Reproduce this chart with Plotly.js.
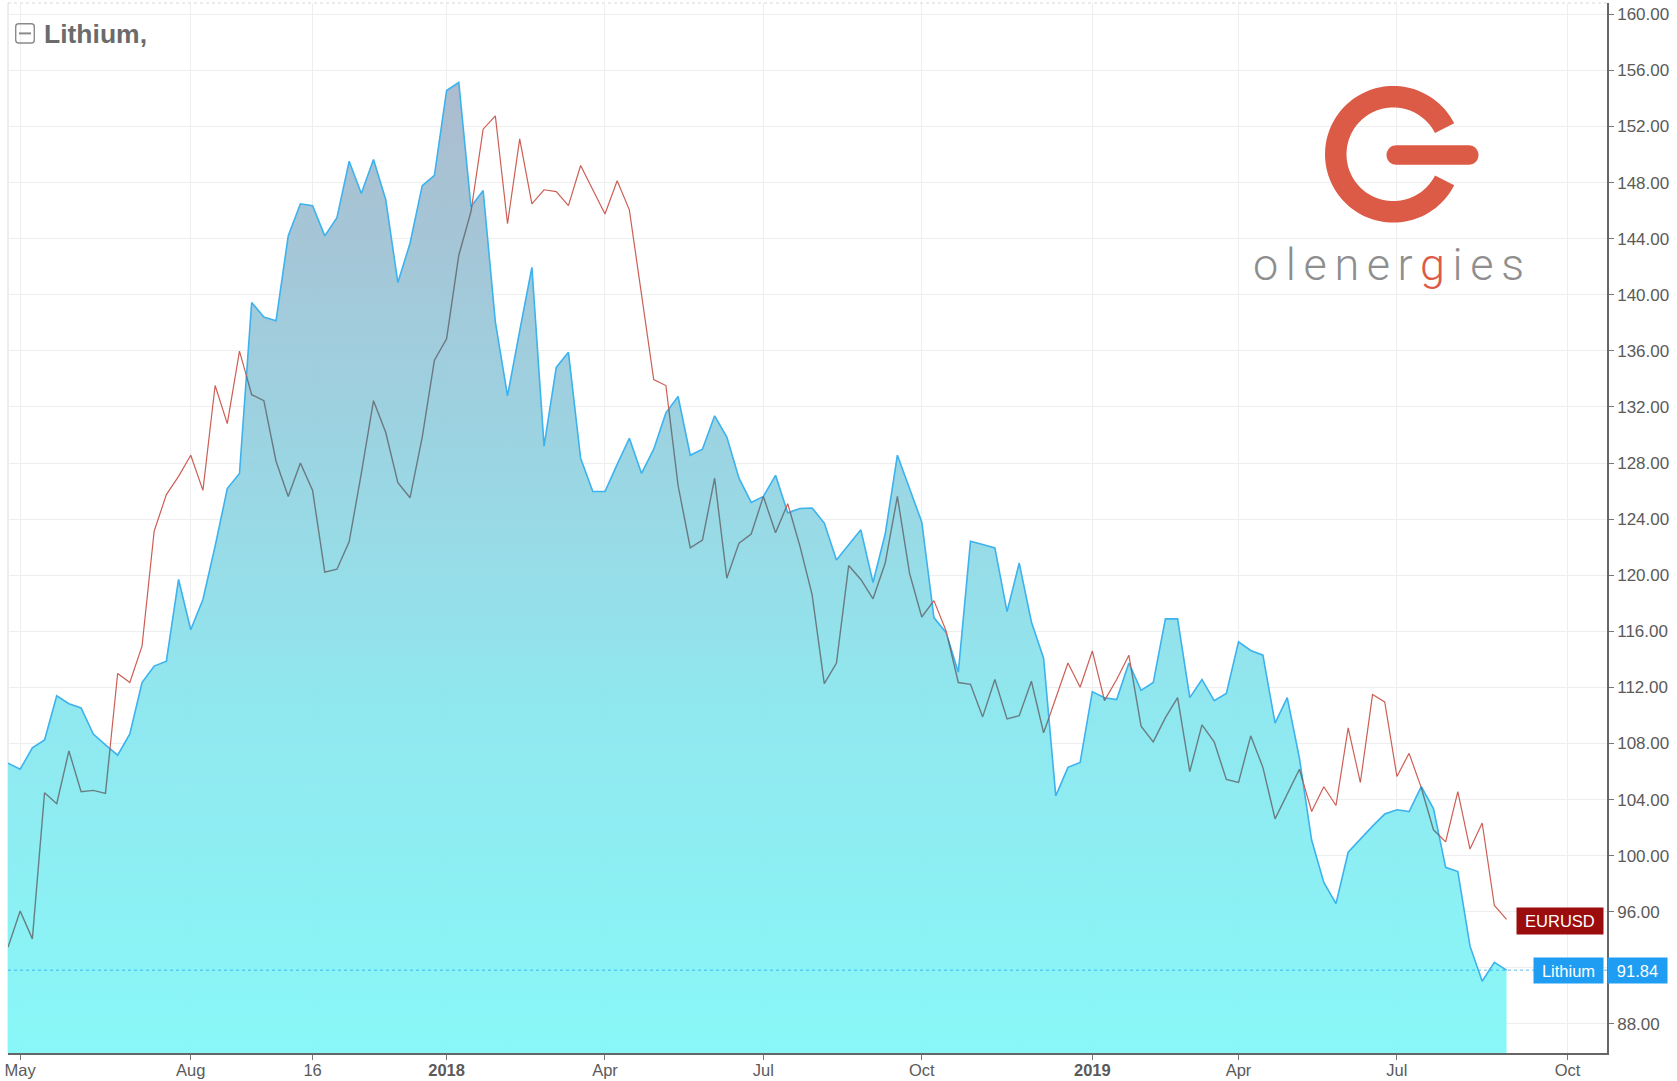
<!DOCTYPE html>
<html>
<head>
<meta charset="utf-8">
<script src="https://cdn.plot.ly/plotly-3.0.1.min.js"></script>
<style>
  html, body { margin: 0; padding: 0; background: #ffffff; }
  #chart { width: 1677px; height: 1081px; }
</style>
</head>
<body>
<div id="chart"></div>
<script>
// ---------- DATA (weekly) ----------
const weekDates = [
  '2017-04-24','2017-05-01','2017-05-08','2017-05-15','2017-05-22','2017-05-29','2017-06-05','2017-06-12',
  '2017-06-19','2017-06-26','2017-07-03','2017-07-10','2017-07-17','2017-07-24','2017-07-31','2017-08-07',
  '2017-08-14','2017-08-21','2017-08-28','2017-09-04','2017-09-11','2017-09-18','2017-09-25','2017-10-02',
  '2017-10-09','2017-10-16','2017-10-23','2017-10-30','2017-11-06','2017-11-13','2017-11-20','2017-11-27',
  '2017-12-04','2017-12-11','2017-12-18','2017-12-25',
  '2018-01-01','2018-01-08','2018-01-15','2018-01-22','2018-01-29','2018-02-05','2018-02-12','2018-02-19',
  '2018-02-26','2018-03-05','2018-03-12','2018-03-19','2018-03-26','2018-04-02','2018-04-09','2018-04-16',
  '2018-04-23','2018-04-30','2018-05-07','2018-05-14','2018-05-21','2018-05-28','2018-06-04','2018-06-11',
  '2018-06-18','2018-06-25','2018-07-02','2018-07-09','2018-07-16','2018-07-23','2018-07-30','2018-08-06',
  '2018-08-13','2018-08-20','2018-08-27','2018-09-03','2018-09-10','2018-09-17','2018-09-24','2018-10-01',
  '2018-10-08','2018-10-15','2018-10-22','2018-10-29','2018-11-05','2018-11-12','2018-11-19','2018-11-26',
  '2018-12-03','2018-12-10','2018-12-17','2018-12-24','2018-12-31',
  '2019-01-07','2019-01-14','2019-01-21','2019-01-28','2019-02-04','2019-02-11','2019-02-18','2019-02-25',
  '2019-03-04','2019-03-11','2019-03-18','2019-03-25','2019-04-01','2019-04-08','2019-04-15','2019-04-22',
  '2019-04-29','2019-05-06','2019-05-13','2019-05-20','2019-05-27','2019-06-03','2019-06-10','2019-06-17',
  '2019-06-24','2019-07-01','2019-07-08','2019-07-15','2019-07-22','2019-07-29','2019-08-05','2019-08-12',
  '2019-08-19','2019-08-26','2019-09-02'
];

const lithium = [
  106.60,106.17,107.69,108.25,111.40,110.84,110.54,108.68,107.90,107.17,
  108.68,112.35,113.52,113.87,119.70,116.11,118.27,122.08,126.18,127.26,
  139.45,138.41,138.15,144.20,146.49,146.36,144.20,145.50,149.52,147.23,
  149.65,146.80,140.87,143.68,147.79,148.52,154.57,155.14,146.28,147.44,
  138.07,132.79,137.42,141.96,129.21,134.82,135.90,128.34,125.97,125.97,
  127.91,129.77,127.26,128.99,131.58,132.75,128.56,128.99,131.37,129.85,
  126.92,125.19,125.62,127.13,124.45,124.76,124.80,123.72,121.08,122.20,
  123.24,119.48,122.94,128.56,126.18,123.80,116.98,115.90,113.09,122.42,
  122.20,121.95,117.41,120.87,116.67,114.08,104.27,106.30,106.65,111.70,
  111.27,111.14,113.74,111.79,112.35,116.89,116.89,111.27,112.57,111.06,
  111.57,115.25,114.64,114.30,109.46,111.27,106.95,101.12,98.09,96.58,
  100.25,101.20,102.11,102.97,103.28,103.15,104.92,103.36,99.17,98.87,
  93.55,91.05,92.39,91.84
];

const eurusd = [
  93.47,96.06,94.07,104.49,103.71,107.47,104.57,104.66,104.44,113.00,
  112.35,114.95,123.16,125.75,127.05,128.56,126.05,133.53,130.81,135.99,
  132.88,132.45,128.13,125.62,128.00,126.05,120.22,120.43,122.38,127.26,
  132.45,130.20,126.61,125.53,129.85,135.34,136.86,142.82,145.93,151.81,
  152.76,145.07,151.12,146.49,147.49,147.36,146.36,149.22,147.49,145.76,
  148.13,146.06,140.01,133.96,133.53,126.40,121.95,122.51,126.92,119.79,
  122.29,122.94,125.62,123.03,125.10,122.08,118.62,112.27,113.74,120.69,
  119.70,118.32,120.87,125.62,120.13,117.02,118.19,116.03,112.35,112.22,
  109.90,112.57,109.76,109.98,112.44,108.77,111.20,113.74,112.01,114.60,
  111.06,112.57,114.30,109.24,108.12,109.85,111.27,106.00,109.33,108.12,
  105.44,105.22,108.55,106.30,102.63,104.36,106.17,103.15,104.92,103.58,
  109.11,105.22,111.49,110.97,105.65,107.30,104.85,101.85,100.99,104.57,
  100.47,102.33,96.45,95.46
];

const tickDates  = ['2017-05-01','2017-08-07','2017-10-16','2018-01-01','2018-04-02','2018-07-02',
                    '2018-10-01','2019-01-07','2019-04-01','2019-07-01','2019-10-07'];
const tickLabels = ['May','Aug','16','<b>2018</b>','Apr','Jul','Oct','<b>2019</b>','Apr','Jul','Oct'];

const seriesNames = ['Lithium', 'EURUSD'];

// ---------- helpers ----------
const toMs = d => Date.parse(d + 'T00:00:00Z');

// split the comparison line into the part above the area and the part under it
function splitLines(xs, a, b) {
  const above = {x: [], y: []}, below = {x: [], y: []};
  function add(s, x0, y0, x1, y1) {
    const n = s.x.length;
    if (!(n && s.x[n - 1] === x0 && s.y[n - 1] === y0)) {
      if (n) { s.x.push(null); s.y.push(null); }
      s.x.push(x0); s.y.push(y0);
    }
    s.x.push(x1); s.y.push(y1);
  }
  for (let i = 0; i < xs.length - 1; i++) {
    const x0 = xs[i], x1 = xs[i + 1], y0 = a[i], y1 = a[i + 1];
    const d0 = a[i] - b[i], d1 = a[i + 1] - b[i + 1];
    if (d0 >= 0 && d1 >= 0) add(above, x0, y0, x1, y1);
    else if (d0 < 0 && d1 < 0) add(below, x0, y0, x1, y1);
    else {
      const f = d0 / (d0 - d1);
      const xc = x0 + f * (x1 - x0), yc = y0 + f * (y1 - y0);
      if (d0 >= 0) { add(above, x0, y0, xc, yc); add(below, xc, yc, x1, y1); }
      else { add(below, x0, y0, xc, yc); add(above, xc, yc, x1, y1); }
    }
  }
  return {above, below};
}

const xMs = weekDates.map(toMs);
const parts = splitLines(xMs, eurusd, lithium);
const lastLi = lithium[lithium.length - 1];
const lastEu = eurusd[eurusd.length - 1];

// ---------- layout geometry ----------
const W = 1677, H = 1081;
const M = {l: 8, r: 70, t: 3, b: 28};
const ox = px => (px - M.l).toFixed(2);
const oy = py => (-(py - M.t)).toFixed(2);

function pixShape(path, fill, line) {
  return {
    type: 'path', xref: 'paper', yref: 'paper', xsizemode: 'pixel', ysizemode: 'pixel',
    xanchor: 0, yanchor: 1, path: path,
    fillcolor: fill || 'rgba(0,0,0,0)', line: line || {width: 0}, layer: 'above'
  };
}

function ringPath(cx, cy, R, r, a0, a1) {
  const pts = [];
  for (let a = a0; a <= a1 + 0.001; a += 3) {
    const t = a * Math.PI / 180;
    pts.push([cx + R * Math.cos(t), cy + R * Math.sin(t)]);
  }
  for (let a = a1; a >= a0 - 0.001; a -= 3) {
    const t = a * Math.PI / 180;
    pts.push([cx + r * Math.cos(t), cy + r * Math.sin(t)]);
  }
  return 'M' + pts.map(p => ox(p[0]) + ',' + oy(p[1])).join(' L') + ' Z';
}
function pillPath(x0, x1, yc, h) {
  const rr = h / 2, pts = [];
  for (let a = -90; a <= 90; a += 10) {
    const t = a * Math.PI / 180;
    pts.push([x1 - rr + rr * Math.cos(t), yc + rr * Math.sin(t)]);
  }
  for (let a = 90; a <= 270; a += 10) {
    const t = a * Math.PI / 180;
    pts.push([x0 + rr + rr * Math.cos(t), yc + rr * Math.sin(t)]);
  }
  return 'M' + pts.map(p => ox(p[0]) + ',' + oy(p[1])).join(' L') + ' Z';
}
function roundRectPath(x0, y0, x1, y1, rad) {
  return 'M' + ox(x0 + rad) + ',' + oy(y0) +
    ' L' + ox(x1 - rad) + ',' + oy(y0) + ' Q' + ox(x1) + ',' + oy(y0) + ' ' + ox(x1) + ',' + oy(y0 + rad) +
    ' L' + ox(x1) + ',' + oy(y1 - rad) + ' Q' + ox(x1) + ',' + oy(y1) + ' ' + ox(x1 - rad) + ',' + oy(y1) +
    ' L' + ox(x0 + rad) + ',' + oy(y1) + ' Q' + ox(x0) + ',' + oy(y1) + ' ' + ox(x0) + ',' + oy(y1 - rad) +
    ' L' + ox(x0) + ',' + oy(y0 + rad) + ' Q' + ox(x0) + ',' + oy(y0) + ' ' + ox(x0 + rad) + ',' + oy(y0) + ' Z';
}

const LOGO_RED = '#db5b47';
const FONT = 'Liberation Sans, Arial, Helvetica, sans-serif';

// ---------- traces ----------
const traces = [
  {
    x: weekDates, y: lithium, type: 'scatter', mode: 'lines', name: seriesNames[0],
    line: {color: '#3cb2ee', width: 1.6},
    fill: 'tozeroy',
    fillcolor: 'rgba(140,225,235,0.92)',
    fillgradient: {
      type: 'vertical', start: 86, stop: 156,
      colorscale: [
        [0.0, 'rgba(128,247,247,0.93)'],
        [0.35, 'rgba(136,230,238,0.93)'],
        [0.65, 'rgba(150,206,222,0.93)'],
        [1.0, 'rgba(166,182,202,0.93)']
      ]
    },
    hoverinfo: 'skip'
  },
  {
    x: parts.below.x, y: parts.below.y, type: 'scatter', mode: 'lines', name: seriesNames[1],
    line: {color: 'rgba(95,98,104,0.8)', width: 1.4}, connectgaps: false, hoverinfo: 'skip'
  },
  {
    x: parts.above.x, y: parts.above.y, type: 'scatter', mode: 'lines', name: seriesNames[1],
    line: {color: '#cc5f55', width: 1.2}, connectgaps: false, hoverinfo: 'skip'
  }
];

// ---------- layout ----------
const layout = {
  width: W, height: H,
  margin: M,
  paper_bgcolor: '#ffffff', plot_bgcolor: '#ffffff',
  showlegend: false,
  font: {family: FONT, color: '#5a5a5a'},
  title: {
    text: 'Lithium,',
    font: {family: FONT, size: 26.5, weight: 700, color: '#6b6b6b'},
    xref: 'container', yref: 'container',
    x: 44 / W, xanchor: 'left', y: 1 - 34 / H, yanchor: 'middle'
  },
  xaxis: {
    type: 'date',
    range: ['2017-04-24', '2019-10-29 17:00'],
    tickmode: 'array', tickvals: tickDates, ticktext: tickLabels,
    ticks: 'outside', ticklen: 5, tickcolor: '#777', tickwidth: 1,
    ticklabelstandoff: -3,
    tickfont: {family: FONT, size: 16.5, color: '#5a5a5a'},
    showgrid: true, gridcolor: '#eeeeee', gridwidth: 1,
    showline: true, linecolor: '#666', linewidth: 1.5,
    zeroline: false, automargin: false, fixedrange: true
  },
  yaxis: {
    side: 'right',
    range: [85.93, 160.81],
    tickmode: 'linear', tick0: 0, dtick: 4, tickformat: '.2f',
    ticks: 'outside', ticklen: 5, tickcolor: '#777', tickwidth: 1,
    tickfont: {family: FONT, size: 17, color: '#5a5a5a'},
    showgrid: true, gridcolor: '#eeeeee', gridwidth: 1,
    showline: true, linecolor: '#666', linewidth: 1.8,
    zeroline: false, automargin: false, fixedrange: true
  },
  shapes: [
    {type: 'line', xref: 'paper', x0: 0, x1: 1, yref: 'y', y0: lastLi, y1: lastLi,
     line: {color: 'rgba(40,160,235,0.75)', width: 1, dash: 'dot'}, layer: 'above'},
    {type: 'line', xref: 'paper', x0: 0, x1: 0, yref: 'paper', y0: 0, y1: 1,
     line: {color: '#dcdcdc', width: 1}, layer: 'below'},
    {type: 'line', xref: 'paper', x0: 0, x1: 1, yref: 'paper', y0: 1, y1: 1,
     line: {color: '#d8d8d8', width: 1, dash: 'dot'}, layer: 'below'},
    pixShape(roundRectPath(15.7, 23.8, 34.3, 43.0, 3), 'rgba(0,0,0,0)', {color: '#8a8a8a', width: 1.4}),
    {type: 'path', xref: 'paper', yref: 'paper', xsizemode: 'pixel', ysizemode: 'pixel', xanchor: 0, yanchor: 1,
     path: 'M' + ox(19) + ',' + oy(33.4) + ' L' + ox(31) + ',' + oy(33.4), line: {color: '#8a8a8a', width: 2}},
    pixShape(ringPath(1393.3, 154.3, 68.3, 46.8, 27, 333), LOGO_RED),
    pixShape(pillPath(1386.5, 1478.5, 155, 19.5), LOGO_RED)
  ],
  annotations: [
    {
      xref: 'paper', x: 1, xanchor: 'right', xshift: -3, yref: 'y', y: lastEu, yanchor: 'middle', yshift: -2,
      text: seriesNames[1], showarrow: false, bgcolor: '#9b0c0c', borderpad: 3.5, width: 79, height: 19,
      font: {family: FONT, size: 16.5, color: '#ffffff'}, align: 'center'
    },
    {
      xref: 'paper', x: 1, xanchor: 'right', xshift: -3, yref: 'y', y: lastLi, yanchor: 'middle',
      text: seriesNames[0], showarrow: false, bgcolor: '#1e9df2', borderpad: 3, width: 63, height: 19,
      font: {family: FONT, size: 16.5, color: '#ffffff'}, align: 'center'
    },
    {
      xref: 'paper', x: 1, xanchor: 'left', xshift: 0, yref: 'y', y: lastLi, yanchor: 'middle',
      text: lastLi.toFixed(2), showarrow: false, bgcolor: '#1e9df2', borderpad: 3, width: 53, height: 19,
      font: {family: FONT, size: 16.5, color: '#ffffff'}, align: 'center'
    },
    {
      xref: 'paper', yref: 'paper',
      x: (1392 - M.l) / (W - M.l - M.r), y: (H - M.b - 265) / (H - M.t - M.b),
      xanchor: 'center', yanchor: 'middle', showarrow: false,
      text: '<span style="letter-spacing:7.6px">olener<span style="color:' + LOGO_RED + '">g</span>ies</span>',
      font: {family: 'Roboto, Lato, sans-serif', size: 45, weight: 300, color: '#8e8e8e'}
    }
  ]
};

Plotly.newPlot('chart', traces, layout, {displayModeBar: false, staticPlot: true});
</script>
</body>
</html>
